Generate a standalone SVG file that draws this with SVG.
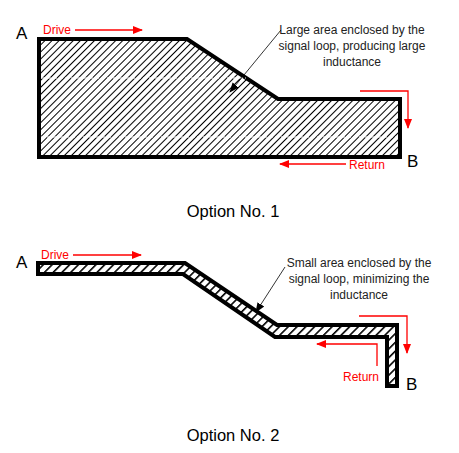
<svg xmlns="http://www.w3.org/2000/svg" width="459" height="453" viewBox="0 0 459 453">
<defs>
<pattern id="hatch1" patternUnits="userSpaceOnUse" width="5" height="10" patternTransform="rotate(45)">
<rect width="5" height="10" fill="#fff"/>
<line x1="0.5" y1="0" x2="0.5" y2="10" stroke="#000" stroke-width="1"/>
</pattern>
<pattern id="hatch2" patternUnits="userSpaceOnUse" width="6.2" height="10" patternTransform="rotate(45)">
<rect width="6.2" height="10" fill="#fff"/>
<line x1="0.8" y1="0" x2="0.8" y2="10" stroke="#000" stroke-width="1.6"/>
</pattern>
<marker id="redArrow" markerWidth="10" markerHeight="10" refX="9" refY="5" orient="auto" markerUnits="userSpaceOnUse">
<path d="M0,1 L10,5 L0,9 Z" fill="#f00"/>
</marker>
<marker id="blkArrow" markerWidth="10" markerHeight="10" refX="9" refY="5" orient="auto" markerUnits="userSpaceOnUse">
<path d="M0,1 L10,5 L0,9 Z" fill="#000"/>
</marker>
</defs>
<style>
.shape{stroke:#000;stroke-width:4;stroke-linejoin:miter}
.red{fill:none;stroke:#f00;stroke-width:1.3;marker-end:url(#redArrow)}
.lead{fill:none;stroke:#000;stroke-width:0.8;marker-end:url(#blkArrow)}
.dash{stroke:#fff;stroke-width:1.2;stroke-dasharray:4 2}
.lbl{font-family:"Liberation Sans",Arial,sans-serif;font-size:17px;fill:#000}
.rtxt{font-family:"Liberation Sans",Arial,sans-serif;font-size:12px;fill:#f00}
.note{font-family:"Liberation Sans",Arial,sans-serif;font-size:12px;fill:#222;text-anchor:middle}
.cap{font-family:"Liberation Sans",Arial,sans-serif;font-size:16.5px;fill:#000;text-anchor:middle}
</style>
<g id="option1">
<g id="shape1">
<polygon class="shape" fill="url(#hatch1)" points="39,39 187,39 278,99 400,99 400,157 39,157"/>
<line class="dash" x1="41" y1="78" x2="246" y2="78"/>
<line class="dash" x1="41" y1="137" x2="398" y2="137"/>
</g>
<text id="A1" class="lbl" x="16" y="39">A</text>
<text id="B1" class="lbl" x="407" y="167">B</text>
<text id="drive1" class="rtxt" x="43" y="34">Drive</text>
<text id="return1" class="rtxt" x="349" y="169">Return</text>
<g id="note1">
<text class="note" x="352" y="34">Large area enclosed by the</text>
<text class="note" x="352" y="50">signal loop, producing large</text>
<text class="note" x="352" y="66">inductance</text>
</g>
<text id="cap1" class="cap" x="233" y="217">Option No. 1</text>
</g>
<g id="option2">
<polygon id="shape2" class="shape" fill="url(#hatch2)" points="38,263 185,263 277,325 397,325 397,386 387,386 387,337 275,337 183,274 38,274"/>
<text id="A2" class="lbl" x="16" y="268">A</text>
<text id="B2" class="lbl" x="406" y="390">B</text>
<text id="drive2" class="rtxt" x="41" y="259">Drive</text>
<text id="return2" class="rtxt" x="343" y="381">Return</text>
<g id="note2">
<text class="note" x="359" y="267">Small area enclosed by the</text>
<text class="note" x="359" y="283">signal loop, minimizing the</text>
<text class="note" x="359" y="299">inductance</text>
</g>
<text id="cap2" class="cap" x="233" y="441">Option No. 2</text>
</g>
<g id="connectors">
<path class="red" d="M75,30 H142"/>
<path class="red" d="M360,91 H408 V128"/>
<path class="red" d="M346,164 H280"/>
<path class="lead" d="M281,30 L230,92"/>
<path class="red" d="M73,255 H141"/>
<path class="red" d="M359,316 H407 V353"/>
<path class="red" d="M377,366 V344 H317"/>
<path class="lead" d="M285,267 L256,312"/>
</g>
</svg>
